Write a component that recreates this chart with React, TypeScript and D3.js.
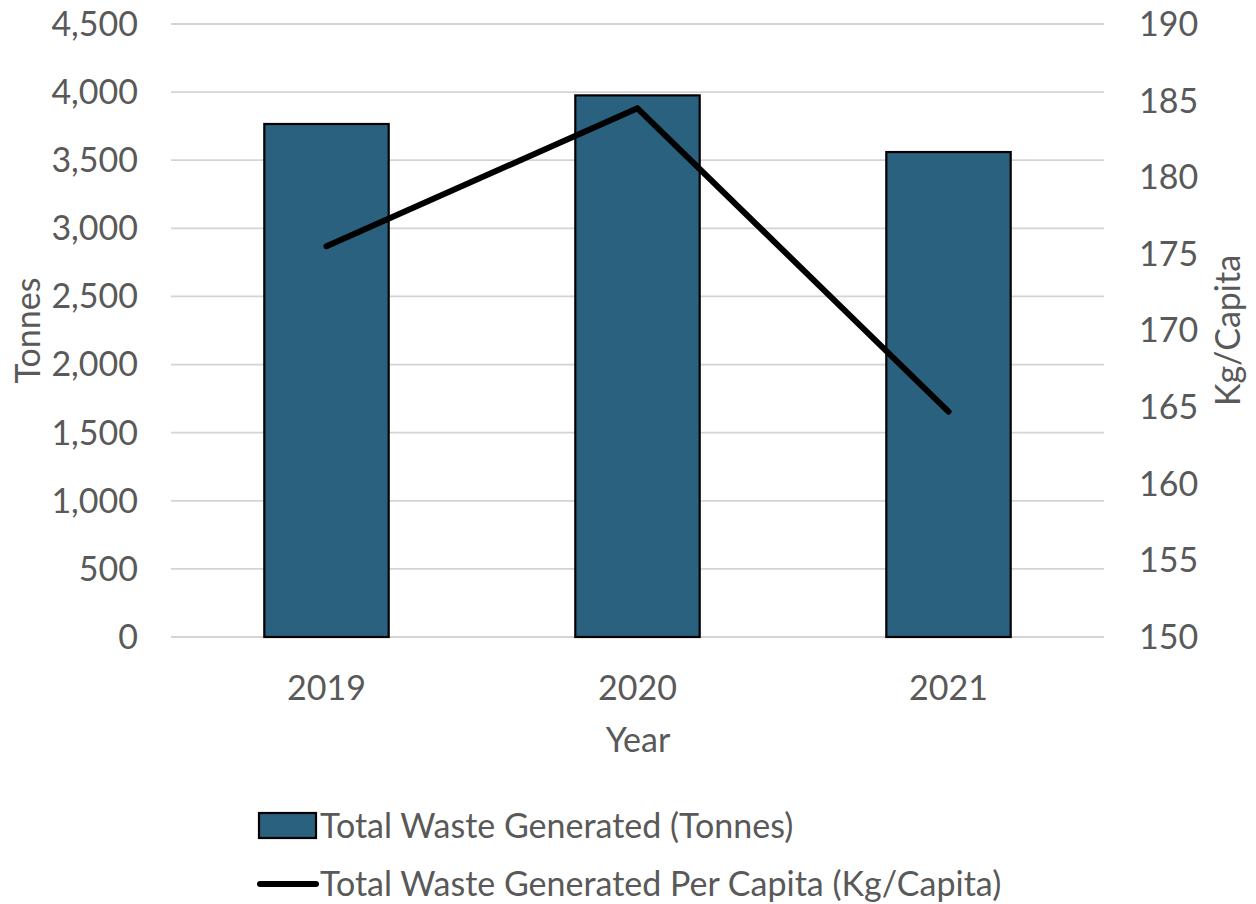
import React from "react";
import * as d3 from "d3";

// Annual waste figures
const years = ["2019", "2020", "2021"];
const totalTonnes = [3766, 3976, 3560];
const perCapitaKg = [175.5, 184.5, 164.7];
const leftTicks = [0, 500, 1000, 1500, 2000, 2500, 3000, 3500, 4000, 4500];
const rightTicks = [150, 155, 160, 165, 170, 175, 180, 185, 190];
const seriesNames = [
  "Total Waste Generated (Tonnes)",
  "Total Waste Generated Per Capita (Kg/Capita)",
];

const W = 1256;
const H = 904;
const plot = { left: 171, right: 1104, top: 24, bottom: 637 };
const textColor = "#595959";
const barColor = "#29617F";
const gridColor = "#d4d4d4";
const font = "Lato, 'Open Sans', sans-serif";
const fs = 34;

export default function App() {
  const x = d3
    .scaleBand<string>()
    .domain(years)
    .range([plot.left, plot.right])
    .paddingInner(0.6)
    .paddingOuter(0.3);
  const yL = d3.scaleLinear().domain([0, 4500]).range([plot.bottom, plot.top]);
  const yR = d3.scaleLinear().domain([150, 190]).range([plot.bottom, plot.top]);

  const line = d3
    .line<number>()
    .x((_, i) => (x(years[i]) as number) + x.bandwidth() / 2)
    .y((d) => yR(d));

  return (
    <svg
      width={W}
      height={H}
      viewBox={`0 0 ${W} ${H}`}
      style={{ position: "absolute", left: 0, top: 0, background: "#fff" }}
      fontFamily={font}
    >
      {/* horizontal gridlines */}
      {leftTicks.map((t) => (
        <line
          key={`g${t}`}
          x1={plot.left}
          x2={plot.right}
          y1={yL(t)}
          y2={yL(t)}
          stroke={gridColor}
          strokeWidth={1.8}
        />
      ))}

      {/* left axis labels */}
      {leftTicks.map((t) => (
        <text
          key={`l${t}`}
          x={138}
          y={yL(t)}
          dy="0.35em"
          textAnchor="end"
          fontSize={fs}
          fill={textColor}
        >
          {d3.format(",")(t)}
        </text>
      ))}

      {/* right axis labels */}
      {rightTicks.map((t) => (
        <text
          key={`r${t}`}
          x={1139}
          y={yR(t)}
          dy="0.35em"
          textAnchor="start"
          fontSize={fs}
          fill={textColor}
        >
          {t}
        </text>
      ))}

      {/* bars */}
      {totalTonnes.map((v, i) => (
        <rect
          key={`b${i}`}
          x={x(years[i])}
          y={yL(v)}
          width={x.bandwidth()}
          height={yL(0) - yL(v)}
          fill={barColor}
          stroke="#000"
          strokeWidth={2.2}
        />
      ))}

      {/* per-capita line */}
      <path
        d={line(perCapitaKg) ?? ""}
        fill="none"
        stroke="#000"
        strokeWidth={6}
        strokeLinecap="round"
        strokeLinejoin="round"
      />

      {/* category labels */}
      {years.map((yr) => (
        <text
          key={`x${yr}`}
          x={(x(yr) as number) + x.bandwidth() / 2}
          y={688}
          dy="0.35em"
          textAnchor="middle"
          fontSize={fs}
          fill={textColor}
        >
          {yr}
        </text>
      ))}

      {/* axis titles */}
      <text x={638} y={740} dy="0.35em" textAnchor="middle" fontSize={fs} fill={textColor}>
        Year
      </text>
      <text
        transform={`translate(28,${(plot.top + plot.bottom) / 2}) rotate(-90)`}
        dy="0.35em"
        textAnchor="middle"
        fontSize={fs}
        fill={textColor}
      >
        Tonnes
      </text>
      <text
        transform={`translate(1228,${(plot.top + plot.bottom) / 2}) rotate(-90)`}
        dy="0.35em"
        textAnchor="middle"
        fontSize={fs}
        fill={textColor}
      >
        Kg/Capita
      </text>

      {/* legend */}
      <rect x={259} y={813} width={57} height={25} fill={barColor} stroke="#000" strokeWidth={2.2} />
      <text x={320} y={826} dy="0.35em" fontSize={fs} fill={textColor}>
        {seriesNames[0]}
      </text>
      <line
        x1={260}
        x2={316}
        y1={884}
        y2={884}
        stroke="#000"
        strokeWidth={6}
        strokeLinecap="round"
      />
      <text x={320} y={884} dy="0.35em" fontSize={fs} fill={textColor}>
        {seriesNames[1]}
      </text>
    </svg>
  );
}
